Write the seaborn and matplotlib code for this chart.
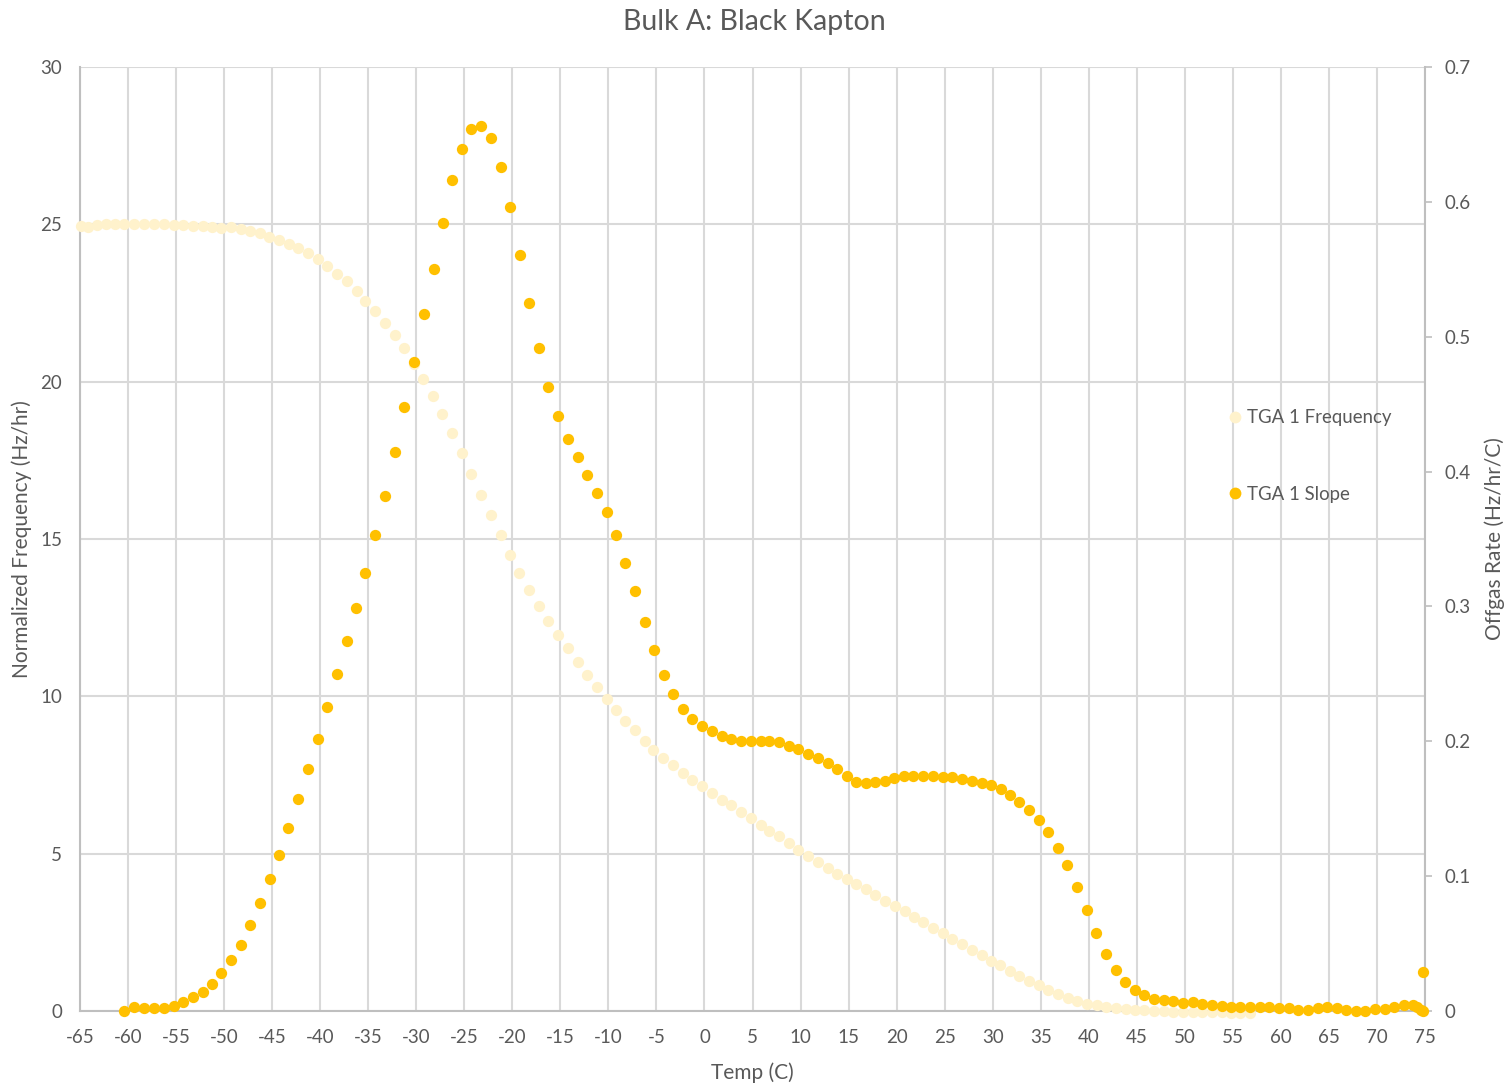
import matplotlib
matplotlib.use("Agg")
import matplotlib.pyplot as plt
import seaborn as sns
import pandas as pd
from matplotlib.lines import Line2D

# ---------------- data ----------------
freq_temp = [-64.93, -64.14, -63.26, -62.29, -61.36, -60.39,
             -59.35, -58.31, -57.27, -56.23, -55.25, -54.28, -53.27, -52.23, -51.23, -50.29,
             -49.28, -48.24, -47.30, -46.29, -45.30, -44.25, -43.28, -42.31, -41.24, -40.23,
             -39.29, -38.28, -37.24, -36.20, -35.30, -34.26, -33.22, -32.18, -31.24, -30.24,
             -29.27, -28.22, -27.29, -26.25, -25.21, -24.30, -23.26, -22.22, -21.21, -20.27,
             -19.27, -18.23, -17.19, -16.25, -15.24, -14.20, -13.16, -12.26, -11.22, -10.18,
             -9.18, -8.24, -7.20, -6.19, -5.32, -4.28, -3.24, -2.20, -1.27, -0.22,
             0.82, 1.83, 2.73, 3.77, 4.81, 5.86, 6.75, 7.79, 8.83, 9.74,
             10.78, 11.82, 12.83, 13.77, 14.81, 15.77, 16.78, 17.75, 18.76, 19.80,
             20.84, 21.78, 22.78, 23.82, 24.83, 25.80, 26.84, 27.85, 28.86, 29.80,
             30.80, 31.84, 32.77, 33.78, 34.77, 35.81, 36.75, 37.79, 38.81, 39.84,
             40.81, 41.82, 42.82, 43.83, 44.80, 45.79, 46.79, 47.80, 48.77, 49.81,
             50.82, 51.76, 52.80, 53.84, 54.81, 55.78, 56.82]
freq_val = [24.95, 24.90, 24.98, 25.00, 25.01, 25.01,
            25.01, 25.01, 25.01, 25.01, 24.98, 24.97, 24.95, 24.94, 24.91, 24.89,
            24.90, 24.84, 24.79, 24.73, 24.60, 24.50, 24.37, 24.24, 24.08, 23.89,
            23.67, 23.43, 23.19, 22.88, 22.56, 22.23, 21.85, 21.48, 21.06, 20.56,
            20.07, 19.55, 18.96, 18.36, 17.74, 17.06, 16.41, 15.75, 15.12, 14.48,
            13.93, 13.38, 12.87, 12.38, 11.94, 11.53, 11.09, 10.68, 10.30, 9.90,
            9.56, 9.21, 8.93, 8.58, 8.29, 8.05, 7.81, 7.56, 7.35, 7.14,
            6.93, 6.71, 6.54, 6.33, 6.12, 5.92, 5.73, 5.55, 5.33, 5.13,
            4.93, 4.73, 4.54, 4.36, 4.18, 4.03, 3.87, 3.70, 3.50, 3.33,
            3.17, 3.00, 2.82, 2.65, 2.48, 2.30, 2.12, 1.95, 1.77, 1.59,
            1.45, 1.27, 1.11, 0.95, 0.82, 0.68, 0.55, 0.42, 0.32, 0.23,
            0.18, 0.12, 0.08, 0.07, 0.04, 0.03, 0.00, 0.00, -0.02, -0.02,
            -0.03, -0.03, -0.04, -0.04, -0.05, -0.05, -0.05]

slope_temp = [-60.39, -59.35, -58.31, -57.27, -56.23, -55.25, -54.28, -53.27, -52.23, -51.23,
              -50.29, -49.28, -48.24, -47.30, -46.29, -45.27, -44.25, -43.32, -42.31, -41.27,
              -40.23, -39.32, -38.28, -37.24, -36.24, -35.30, -34.29, -33.25, -32.21, -31.31,
              -30.24, -29.22, -28.18, -27.25, -26.25, -25.21, -24.30, -23.26, -22.22, -21.18,
              -20.27, -19.23, -18.23, -17.19, -16.29, -15.24, -14.20, -13.16, -12.26, -11.22,
              -10.18, -9.18, -8.24, -7.23, -6.19, -5.25, -4.26, -3.24, -2.20, -1.28,
              -0.24, 0.80, 1.83, 2.73, 3.77, 4.81, 5.86, 6.75, 7.79, 8.83,
              9.74, 10.78, 11.82, 12.83, 13.77, 14.81, 15.77, 16.78, 17.75, 18.76,
              19.76, 20.80, 21.74, 22.78, 23.82, 24.86, 25.77, 26.81, 27.82, 28.84,
              29.80, 30.84, 31.84, 32.77, 33.81, 34.84, 35.81, 36.77, 37.77, 38.80,
              39.82, 40.76, 41.80, 42.81, 43.81, 44.77, 45.79, 46.79, 47.80, 48.77,
              49.81, 50.82, 51.76, 52.80, 53.84, 54.81, 55.78, 56.82, 57.83, 58.80,
              59.81, 60.82, 61.82, 62.79, 63.83, 64.83, 65.84, 66.78, 67.79, 68.79,
              69.83, 70.81, 71.81, 72.85, 73.79, 74.20, 74.56, 74.77, 74.77]
slope_val = [0.0000, 0.0032, 0.0022, 0.0022, 0.0022, 0.0039, 0.0069, 0.0104, 0.0143, 0.0200,
             0.0282, 0.0378, 0.0492, 0.0638, 0.0803, 0.0979, 0.1160, 0.1359, 0.1570, 0.1792,
             0.2017, 0.2254, 0.2499, 0.2744, 0.2988, 0.3250, 0.3527, 0.3821, 0.4147, 0.4481,
             0.4815, 0.5166, 0.5500, 0.5843, 0.6162, 0.6390, 0.6538, 0.6562, 0.6471, 0.6261,
             0.5964, 0.5608, 0.5250, 0.4916, 0.4627, 0.4414, 0.4239, 0.4106, 0.3974, 0.3843,
             0.3698, 0.3527, 0.3324, 0.3112, 0.2882, 0.2677, 0.2491, 0.2354, 0.2239, 0.2167,
             0.2110, 0.2073, 0.2041, 0.2017, 0.2004, 0.2004, 0.2004, 0.2004, 0.1995, 0.1967,
             0.1945, 0.1906, 0.1878, 0.1837, 0.1792, 0.1740, 0.1698, 0.1691, 0.1700, 0.1708,
             0.1728, 0.1743, 0.1743, 0.1743, 0.1743, 0.1733, 0.1733, 0.1723, 0.1705, 0.1692,
             0.1676, 0.1644, 0.1602, 0.1552, 0.1488, 0.1414, 0.1325, 0.1209, 0.1079, 0.0917,
             0.0747, 0.0575, 0.0421, 0.0306, 0.0217, 0.0156, 0.0116, 0.0089, 0.0082, 0.0074,
             0.0057, 0.0065, 0.0054, 0.0044, 0.0037, 0.0027, 0.0027, 0.0027, 0.0030, 0.0030,
             0.0022, 0.0022, 0.0010, 0.0010, 0.0022, 0.0027, 0.0022, 0.0010, 0.0000, 0.0000,
             0.0013, 0.0013, 0.0032, 0.0042, 0.0042, 0.0032, 0.0007, 0.0000, 0.0289]

x_ticks = list(range(-65, 76, 5))
left_ticks = [0, 5, 10, 15, 20, 25, 30]
right_ticks = [0, 0.1, 0.2, 0.3, 0.4, 0.5, 0.6, 0.7]
right_tick_labels = ["0", "0.1", "0.2", "0.3", "0.4", "0.5", "0.6", "0.7"]

title = "Bulk A: Black Kapton"
freq_label = "TGA 1 Frequency"
slope_label = "TGA 1 Slope"

# ---------------- style ----------------
sns.set_theme(style="white")
plt.rcParams["font.family"] = ["Lato", "DejaVu Sans"]
plt.rcParams["axes.unicode_minus"] = False

FREQ_C = "#FFF2CC"
SLOPE_C = "#FFC000"
TXT_C = "#595959"
GRID_C = "#D9D9D9"
AXIS_C = "#BFBFBF"

fig = plt.figure(figsize=(15.09, 10.87), dpi=100)
ax = fig.add_axes([80 / 1509, 1 - 1011 / 1087, 1345 / 1509, 944 / 1087])
ax2 = ax.twinx()

freq_df = pd.DataFrame({"Temp": freq_temp, "Freq": freq_val})
slope_df = pd.DataFrame({"Temp": slope_temp, "Slope": slope_val})

sns.scatterplot(data=freq_df, x="Temp", y="Freq", ax=ax, color=FREQ_C,
                s=66, linewidth=0, clip_on=False, zorder=3)
sns.scatterplot(data=slope_df, x="Temp", y="Slope", ax=ax2, color=SLOPE_C,
                s=66, linewidth=0, clip_on=False, zorder=3)

ax.set_xlim(-65, 75)
ax.set_ylim(0, 30)
ax2.set_ylim(0, 0.7)
ax.set_xticks(x_ticks)
ax.set_xticklabels([str(t) for t in x_ticks])
ax.set_yticks(left_ticks)
ax2.set_yticks(right_ticks)
ax2.set_yticklabels(right_tick_labels)

ax.grid(True, color=GRID_C, linewidth=1.5)
ax.set_axisbelow(True)
ax2.grid(False)

for a in (ax, ax2):
    a.spines["top"].set_visible(False)
ax.spines["left"].set_color(AXIS_C)
ax.spines["bottom"].set_color(AXIS_C)
ax.spines["left"].set_linewidth(1.5)
ax.spines["bottom"].set_linewidth(1.5)
ax.spines["right"].set_visible(False)
ax2.spines["left"].set_visible(False)
ax2.spines["bottom"].set_visible(False)
ax2.spines["right"].set_color(AXIS_C)
ax2.spines["right"].set_linewidth(1.5)

ax.tick_params(axis="x", length=0, labelsize=13.5, labelcolor=TXT_C, pad=13)
ax.tick_params(axis="y", length=0, labelsize=13.5, labelcolor=TXT_C, pad=13)
ax2.tick_params(axis="y", length=5, width=1.2, color=AXIS_C, labelsize=13.5,
                labelcolor=TXT_C, pad=9, direction="out")

ax.set_xlabel("Temp (C)", fontsize=15, color=TXT_C, labelpad=12)
ax.set_ylabel("Normalized Frequency (Hz/hr)", fontsize=15, color=TXT_C, labelpad=6)
ax2.set_ylabel("Offgas Rate (Hz/hr/C)", fontsize=15, color=TXT_C, labelpad=10)

fig.text(0.5, 1 - 22 / 1087, title, ha="center", va="center", fontsize=20.5, color=TXT_C)

handles = [Line2D([], [], linestyle="none", marker="o", markersize=8.5,
                  markerfacecolor=FREQ_C, markeredgewidth=0),
           Line2D([], [], linestyle="none", marker="o", markersize=8.5,
                  markerfacecolor=SLOPE_C, markeredgewidth=0)]
leg = ax2.legend(handles, [freq_label, slope_label], loc="center left",
                 bbox_to_anchor=(0.8475, 0.588), frameon=False, fontsize=13.4,
                 handlelength=0.6, handletextpad=0.35, labelspacing=3.2, borderpad=0)
for t in leg.get_texts():
    t.set_color(TXT_C)

fig.savefig("out.png", dpi=100)
